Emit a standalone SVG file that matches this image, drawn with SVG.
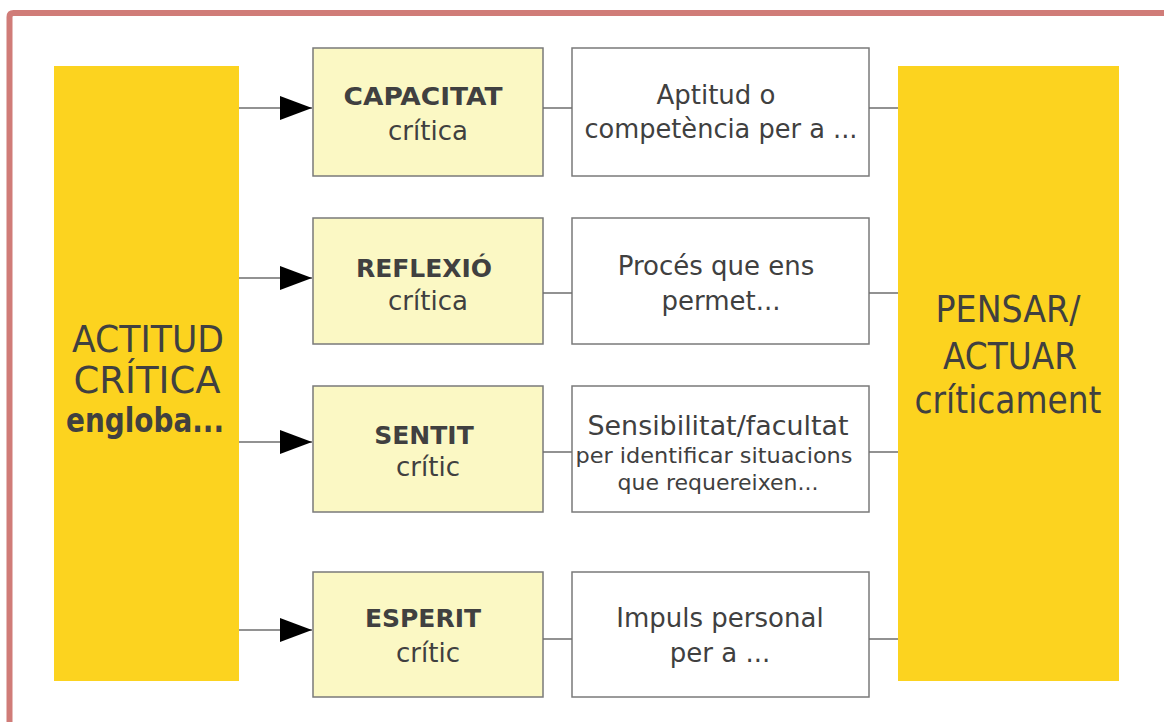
<svg xmlns="http://www.w3.org/2000/svg" width="1164" height="722" viewBox="0 0 1164 722">
<style>
.big{fill:#fcd31f}
.sub{fill:#fbf8c4;stroke:#7a7a7a;stroke-width:1.5}
.wht{fill:#ffffff;stroke:#7a7a7a;stroke-width:1.5}
.t{font-family:"DejaVu Sans",Verdana,sans-serif;fill:#404040;text-anchor:middle}
.b{font-weight:bold}
.ln{stroke:#6e6e6e;stroke-width:1.5;fill:none}
</style>
<defs>
<marker id="arr" markerWidth="32" markerHeight="24" refX="32" refY="12" orient="auto" markerUnits="userSpaceOnUse">
<path d="M0,0 L32,12 L0,24 Z" fill="#000"/>
</marker>
</defs>
<rect width="1164" height="722" fill="#ffffff"/>
<path d="M9.5,725 L9.5,17 Q9.5,13 13.5,13 L1170,13" fill="none" stroke="#d07c78" stroke-width="6"/>

<g id="actitud">
<rect class="big" x="54" y="66" width="185" height="615"/>
<text class="t" font-size="38" x="148" y="352" textLength="152" lengthAdjust="spacingAndGlyphs">ACTITUD</text>
<text class="t" font-size="38" x="147" y="393" textLength="147" lengthAdjust="spacingAndGlyphs">CRÍTICA</text>
<text class="t b" font-size="34" x="145" y="432" textLength="158" lengthAdjust="spacingAndGlyphs">engloba...</text>
</g>

<g id="pensar">
<rect class="big" x="898" y="66" width="221" height="615"/>
<text class="t" font-size="37" x="1008" y="322" textLength="145" lengthAdjust="spacingAndGlyphs">PENSAR/</text>
<text class="t" font-size="37" x="1010" y="369" textLength="134" lengthAdjust="spacingAndGlyphs">ACTUAR</text>
<text class="t" font-size="37" x="1008" y="413" textLength="187" lengthAdjust="spacingAndGlyphs">críticament</text>
</g>

<g id="capacitat">
<rect class="sub" x="313" y="48" width="230" height="128"/>
<text class="t b" font-size="25" x="423" y="105" textLength="159" lengthAdjust="spacingAndGlyphs">CAPACITAT</text>
<text class="t" font-size="26" x="428" y="140">crítica</text>
</g>
<g id="aptitud">
<rect class="wht" x="572" y="48" width="297" height="128"/>
<text class="t" font-size="26" x="716" y="104">Aptitud o</text>
<text class="t" font-size="26" x="721" y="138" textLength="273" lengthAdjust="spacingAndGlyphs">competència per a ...</text>
</g>

<g id="reflexio">
<rect class="sub" x="313" y="218" width="230" height="126"/>
<text class="t b" font-size="25" x="424" y="277">REFLEXIÓ</text>
<text class="t" font-size="26" x="428" y="310">crítica</text>
</g>
<g id="proces">
<rect class="wht" x="572" y="218" width="297" height="126"/>
<text class="t" font-size="26" x="716" y="275">Procés que ens</text>
<text class="t" font-size="26" x="721" y="310">permet...</text>
</g>

<g id="sentit">
<rect class="sub" x="313" y="386" width="230" height="126"/>
<text class="t b" font-size="25" x="424" y="444">SENTIT</text>
<text class="t" font-size="26" x="428" y="476">crític</text>
</g>
<g id="sensibilitat">
<rect class="wht" x="572" y="386" width="297" height="126"/>
<text class="t" font-size="26" x="718" y="435" textLength="261" lengthAdjust="spacingAndGlyphs">Sensibilitat/facultat</text>
<text class="t" font-size="22" x="714" y="463" textLength="277" lengthAdjust="spacingAndGlyphs">per identificar situacions</text>
<text class="t" font-size="22" x="718" y="490">que requereixen...</text>
</g>

<g id="esperit">
<rect class="sub" x="313" y="572" width="230" height="125"/>
<text class="t b" font-size="25" x="423" y="627">ESPERIT</text>
<text class="t" font-size="26" x="428" y="662">crític</text>
</g>
<g id="impuls">
<rect class="wht" x="572" y="572" width="297" height="125"/>
<text class="t" font-size="26" x="720" y="627">Impuls personal</text>
<text class="t" font-size="26" x="720" y="662">per a ...</text>
</g>

<g id="connectors">
<line class="ln" x1="239" y1="108" x2="312" y2="108" marker-end="url(#arr)"/>
<line class="ln" x1="239" y1="278" x2="312" y2="278" marker-end="url(#arr)"/>
<line class="ln" x1="239" y1="442" x2="312" y2="442" marker-end="url(#arr)"/>
<line class="ln" x1="239" y1="630" x2="312" y2="630" marker-end="url(#arr)"/>
<line class="ln" x1="543" y1="108" x2="572" y2="108"/>
<line class="ln" x1="869" y1="108" x2="898" y2="108"/>
<line class="ln" x1="543" y1="293" x2="572" y2="293"/>
<line class="ln" x1="869" y1="293" x2="898" y2="293"/>
<line class="ln" x1="543" y1="452" x2="572" y2="452"/>
<line class="ln" x1="869" y1="452" x2="898" y2="452"/>
<line class="ln" x1="543" y1="639" x2="572" y2="639" stroke="#999"/>
<line class="ln" x1="869" y1="639" x2="898" y2="639" stroke="#999"/>
</g>
</svg>
